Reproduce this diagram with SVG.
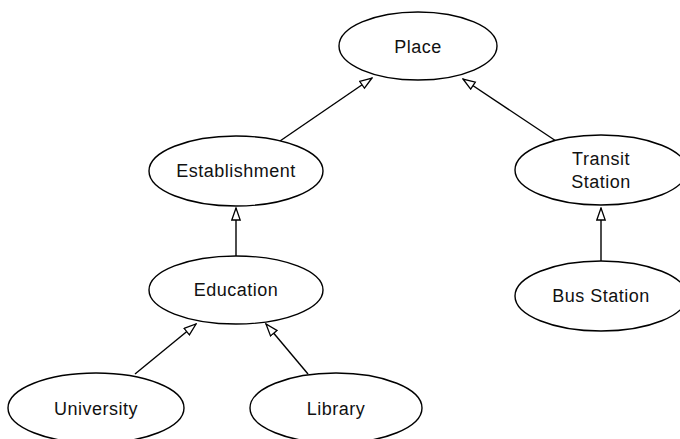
<svg xmlns="http://www.w3.org/2000/svg" width="680" height="439" viewBox="0 0 680 439">
  <defs>
    <marker id="hollow" markerUnits="userSpaceOnUse" markerWidth="14" markerHeight="11" refX="13" refY="5" orient="auto">
      <path d="M1,0.8 L13,5 L1,9.2 Z" fill="#fff" stroke="#000" stroke-width="1.3"/>
    </marker>
  </defs>
  <style>
    .node ellipse { fill: #fff; stroke: #000; stroke-width: 1.4; }
    .node text { font-family: "Liberation Sans", Arial, Helvetica, sans-serif; font-size: 18px; letter-spacing: 0.5px; fill: #111; text-anchor: middle; }
    #edges line { stroke: #000; stroke-width: 1.4; marker-end: url(#hollow); }
  </style>
  <rect width="680" height="439" fill="#fff"/>

  <!-- generalisation links: child points up to parent -->
  <g id="edges">
    <line x1="280" y1="141" x2="372" y2="78"/>
    <line x1="556" y1="141" x2="463" y2="79"/>
    <line x1="236" y1="256" x2="236" y2="208"/>
    <line x1="601" y1="261" x2="601" y2="208"/>
    <line x1="135" y1="374" x2="196" y2="324"/>
    <line x1="308" y1="374" x2="266" y2="324"/>
  </g>

  <g id="place" class="node">
    <ellipse cx="418" cy="46" rx="79" ry="34"/>
    <text x="418" y="53">Place</text>
  </g>
  <g id="establishment" class="node">
    <ellipse cx="236" cy="171" rx="87" ry="35"/>
    <text x="236" y="177">Establishment</text>
  </g>
  <g id="transit-station" class="node">
    <ellipse cx="601" cy="170" rx="86" ry="35"/>
    <text x="601" y="165">Transit</text>
    <text x="601" y="188">Station</text>
  </g>
  <g id="education" class="node">
    <ellipse cx="236" cy="290" rx="87" ry="34"/>
    <text x="236" y="296">Education</text>
  </g>
  <g id="bus-station" class="node">
    <ellipse cx="601" cy="296" rx="86" ry="35"/>
    <text x="601" y="302">Bus Station</text>
  </g>
  <g id="university" class="node">
    <ellipse cx="96" cy="408" rx="88" ry="35"/>
    <text x="96" y="415">University</text>
  </g>
  <g id="library" class="node">
    <ellipse cx="336" cy="408" rx="86" ry="35"/>
    <text x="336" y="415">Library</text>
  </g>
</svg>
